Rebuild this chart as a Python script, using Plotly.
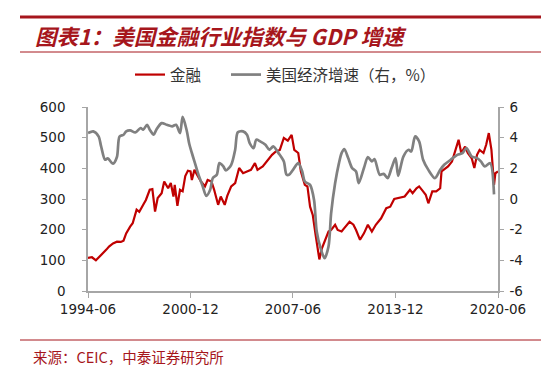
import plotly.graph_objects as go

fin_dates = ["1994-06","1994-09","1994-12","1995-03","1995-05","1995-08","1995-10","1996-01","1996-04","1996-07",
 "1996-09","1996-11","1997-02","1997-04","1997-07","1997-09","1997-12","1998-02","1998-05","1998-07",
 "1998-09","1998-11","1999-02","1999-04","1999-07","1999-09","1999-11","1999-12","2000-02","2000-04",
 "2000-06","2000-08","2000-10","2000-12","2001-01","2001-03","2001-05","2001-08","2001-11","2002-01",
 "2002-04","2002-06","2002-09","2002-11","2003-02","2003-04","2003-07","2003-10","2004-01","2004-04",
 "2004-07","2004-10","2005-01","2005-03","2005-07","2005-11","2006-02","2006-05","2006-08","2006-11",
 "2007-02","2007-05","2007-07","2007-10","2007-12","2008-03","2008-05","2008-07","2008-09","2008-11",
 "2009-01","2009-02","2009-04","2009-06","2009-08","2009-09","2009-11","2010-02","2010-04","2010-07",
 "2010-09","2011-01","2011-04","2011-06","2011-09","2011-12","2012-03","2012-06","2012-09","2013-01",
 "2013-05","2013-08","2013-11","2014-03","2014-07","2014-11","2015-01","2015-04","2015-06","2015-09",
 "2015-11","2016-01","2016-04","2016-07","2016-10","2016-11","2017-02","2017-04","2017-07","2017-09",
 "2017-12","2018-02","2018-05","2018-07","2018-10","2018-12","2019-02","2019-04","2019-07","2019-09",
 "2019-11","2020-01","2020-03","2020-04","2020-06"]
fin_values = [108,110,100,112,121,135,145,155,161,160,
 164,188,210,221,265,258,281,297,330,332,
 259,303,319,357,335,352,308,346,278,330,
 325,375,392,390,362,395,379,357,341,362,
 357,330,281,308,281,310,341,352,401,384,
 390,395,417,395,406,428,444,455,460,499,
 490,509,460,450,390,346,341,275,248,188,
 123,103,139,161,185,194,199,216,199,194,
 205,226,216,199,167,188,216,194,216,237,
 270,275,300,303,308,330,319,335,341,325,
 314,286,325,325,335,390,401,406,422,450,
 493,450,471,450,433,401,444,460,450,477,
 515,460,346,384,390]

gdp_dates = ["1994-06","1994-10","1995-02","1995-04","1995-07","1995-09","1996-01","1996-04","1996-06","1996-09",
 "1996-11","1997-02","1997-06","1997-10","1997-12","1998-03","1998-05","1998-08","1998-10","1999-02",
 "1999-06","1999-10","2000-01","2000-04","2000-06","2000-09","2000-11","2001-01","2001-03","2001-06",
 "2001-09","2001-12","2002-03","2002-05","2002-08","2002-10","2003-01","2003-03","2003-07","2003-10",
 "2003-12","2004-04","2004-07","2004-09","2004-12","2005-02","2005-05","2005-09","2005-12","2006-03",
 "2006-07","2006-11","2007-01","2007-03","2007-06","2007-10","2008-01","2008-03","2008-07","2008-10",
 "2008-12","2009-03","2009-06","2009-09","2009-11","2010-02","2010-05","2010-07","2010-09","2010-12",
 "2011-03","2011-06","2011-08","2011-12","2012-03","2012-06","2012-08","2012-12","2013-03","2013-06",
 "2013-09","2013-12","2014-02","2014-06","2014-10","2014-12","2015-03","2015-06","2015-09","2016-01",
 "2016-06","2016-10","2017-01","2017-06","2017-11","2018-03","2018-06","2018-10","2019-02","2019-05",
 "2019-08","2019-12","2020-03"]
gdp_values = [4.30,4.41,4.08,3.43,2.56,2.65,2.30,2.74,4.08,4.19,
 4.41,4.47,4.34,4.63,4.52,4.84,4.52,4.19,4.52,4.95,
 4.84,4.74,4.84,4.30,5.35,4.50,3.60,3.00,2.45,1.60,
 0.90,0.20,0.60,1.36,1.58,2.34,2.12,1.86,2.23,3.21,
 4.35,4.41,4.19,3.65,3.32,3.87,3.76,3.54,3.21,3.43,
 2.99,2.45,1.60,1.58,1.90,2.34,1.79,1.14,0.92,-0.06,
 -2.10,-3.21,-3.86,-3.10,-0.92,1.03,2.34,2.99,3.26,2.67,
 2.02,1.79,1.03,2.02,2.73,2.45,2.60,1.58,1.64,1.36,
 2.02,2.67,1.51,2.77,3.21,3.10,4.08,3.76,2.56,1.90,
 1.36,1.90,2.23,2.56,2.88,2.99,3.32,2.77,2.67,2.45,
 2.12,2.34,0.30]

x_tick_dates = ["1994-06-01","2000-12-01","2007-06-01","2013-12-01","2020-06-01"]
x_tick_labels = ["1994-06","2000-12","2007-06","2013-12","2020-06"]
left_ticks = [0,100,200,300,400,500,600]
right_ticks = [-6,-4,-2,0,2,4,6]
right_labels = ["-6","-4","-2","0","2","4","6"]

title_text = "图表1：美国金融行业指数与 GDP 增速"
source_text = "来源：CEIC，中泰证券研究所"
name_fin = "金融"
name_gdp = "美国经济增速（右，%）"

RED = "#C00000"
GRAY = "#808080"
DARKRED = "#A6161C"
AXIS = "#A6A6A6"
NUM_FONT = "DejaVu Sans"
CJK_FONT = "Noto Sans CJK SC"

fig = go.Figure()
fig.add_trace(go.Scatter(x=[d + "-01" for d in fin_dates], y=fin_values, name=name_fin,
                         mode="lines", line=dict(color=RED, width=2.2), yaxis="y", legend="legend"))
fig.add_trace(go.Scatter(x=[d + "-01" for d in gdp_dates], y=gdp_values, name=name_gdp,
                         mode="lines", line=dict(color=GRAY, width=2.7, shape="spline", smoothing=0.8),
                         yaxis="y2", legend="legend2"))

# page has an 8px body margin; lay out in screen pixels and offset
OFF = 8
W, H = 550 - OFF, 381 - OFF
L, T = 88 - OFF, 107 - OFF
R = W - (498 - OFF)
B = H - (291 - OFF)
pw, ph = W - L - R, H - T - B

def px2x(px):
    return (px - OFF - L) / pw

def py2y(py):
    return (H - B - (py - OFF)) / ph

leg_font = dict(family=CJK_FONT, size=15.5, color="#333333")

fig.update_layout(
    width=W, height=H,
    margin=dict(l=L, r=R, t=T, b=B, autoexpand=False),
    paper_bgcolor="white", plot_bgcolor="white",
    showlegend=True,
    legend=dict(orientation="h", x=px2x(130), y=py2y(75), xanchor="left", yanchor="middle",
                font=leg_font, bgcolor="rgba(0,0,0,0)"),
    legend2=dict(orientation="h", x=px2x(226), y=py2y(75), xanchor="left", yanchor="middle",
                 font=leg_font, bgcolor="rgba(0,0,0,0)"),
    xaxis=dict(type="date", range=["1994-06-01", "2020-06-01"], tickvals=x_tick_dates, ticktext=x_tick_labels,
               showgrid=False, zeroline=False, showline=True, linecolor=AXIS, linewidth=1.5,
               ticks="outside", ticklen=5, tickcolor=AXIS, tickwidth=1,
               tickfont=dict(family=NUM_FONT, size=13.5, color="#222222")),
    yaxis=dict(range=[0, 600], tickvals=left_ticks, showgrid=False, zeroline=False, showline=True,
               linecolor=AXIS, linewidth=1.5, ticks="outside", ticklen=4, tickcolor=AXIS,
               ticklabelstandoff=14,
               tickfont=dict(family=NUM_FONT, size=13.5, color="#222222")),
    yaxis2=dict(range=[-6, 6], tickvals=right_ticks, ticktext=right_labels, overlaying="y", side="right",
                showgrid=False, zeroline=False, showline=True, linecolor=AXIS, linewidth=1.5,
                ticks="outside", ticklen=4, tickcolor=AXIS, ticklabelstandoff=3,
                tickfont=dict(family=NUM_FONT, size=13.5, color="#222222")),
)

fig.add_shape(type="line", xref="paper", yref="paper", x0=px2x(20), x1=px2x(541), y0=py2y(17), y1=py2y(17),
              line=dict(color=DARKRED, width=3))
fig.add_shape(type="line", xref="paper", yref="paper", x0=px2x(20), x1=px2x(541), y0=py2y(52), y1=py2y(52),
              line=dict(color=DARKRED, width=1))
fig.add_shape(type="line", xref="paper", yref="paper", x0=px2x(20), x1=px2x(541), y0=py2y(340), y1=py2y(340),
              line=dict(color=DARKRED, width=1))

fig.add_annotation(text="<b>" + title_text + "</b>", xref="paper", yref="paper", x=px2x(33), y=py2y(35),
                   xanchor="left", yanchor="middle", showarrow=False,
                   font=dict(family=CJK_FONT, size=21.5, color=DARKRED, style="italic"))
fig.add_annotation(text=source_text, xref="paper", yref="paper", x=px2x(31), y=py2y(356),
                   xanchor="left", yanchor="middle", showarrow=False,
                   font=dict(family=CJK_FONT, size=14.5, color=DARKRED))

fig.write_html("out.html")
